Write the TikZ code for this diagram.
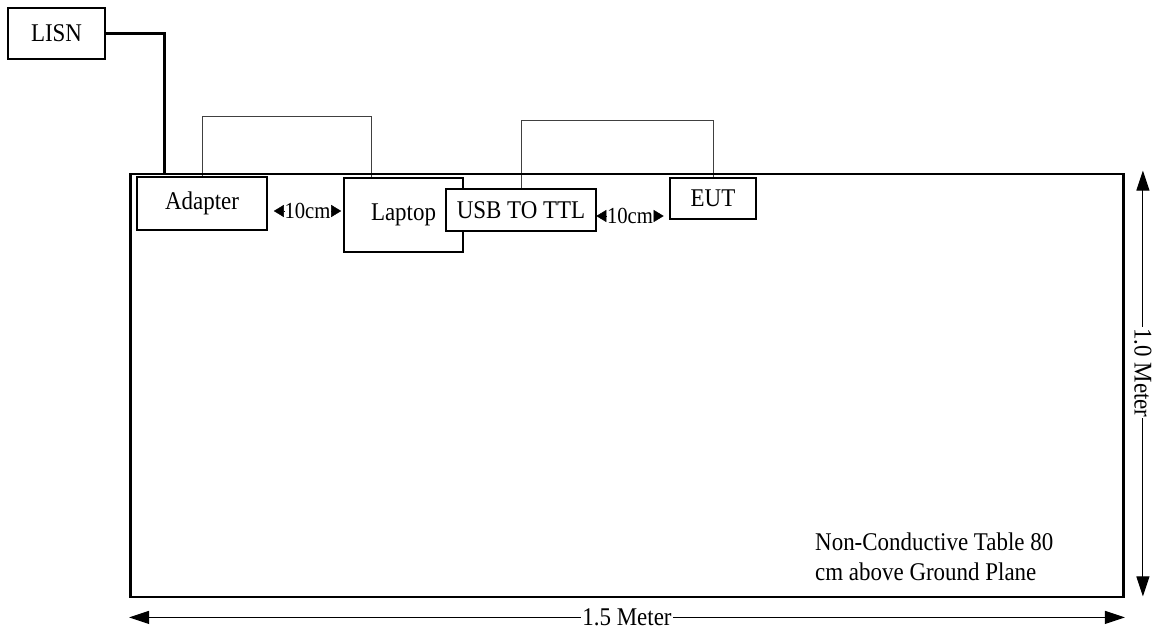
\documentclass[tikz,border=0pt]{standalone}
\usepackage{fontspec}
\setmainfont{Liberation Serif}[FakeStretch=0.9]
\usetikzlibrary{arrows.meta,backgrounds}
\begin{document}
\begin{tikzpicture}[x=1pt,y=-1pt,
  box/.style={draw, line width=1.2pt, fill=white, inner sep=0pt, font=\fontsize{25.5}{30}\selectfont},
  tablebox/.style={draw, line width=2.8pt, inner sep=0pt},
  thickline/.style={line width=3pt},
  cable/.style={draw=black!75, line width=1pt},
  dimarrow/.style={line width=1pt, {Triangle[length=20pt,width=13pt]}-{Triangle[length=20pt,width=13pt]}},
  dimlabel/.style={fill=white, inner sep=1pt, font=\fontsize{25.5}{30}\selectfont},
  gaplabel/.style={inner sep=0.5pt, font=\fontsize{23}{25}\selectfont},
  gaptip/.style={-{Triangle[length=10pt,width=12pt]}},
  notetext/.style={anchor=north west, inner sep=0pt, align=left, font=\fontsize{25.5}{30}\selectfont}
]
\useasboundingbox (0,0) rectangle (1154,629);
\node[tablebox, minimum width=993pt, minimum height=423pt] (table) at (627,385.5) {};

\node[box, minimum width=97pt, minimum height=51pt] (lisn) at (56.5,33.5) {LISN};
\node[box, minimum width=130pt, minimum height=53pt] (adapter) at (202,203.5) {Adapter};
\node[box, minimum width=119pt, minimum height=74pt] (laptop) at (403.5,215) {Laptop};
\node[box, minimum width=150pt, minimum height=42pt] (usb) at (521,210) {USB TO TTL};
\node[box, minimum width=86pt, minimum height=41pt] (eut) at (713,198.5) {EUT};

\begin{scope}[on background layer]
  \draw[cable] (adapter.north) -- ++(0,-60) -| ([xshift=28pt]laptop.north west);
  \draw[cable] (usb.north) -- ++(0,-68) -| (eut.north);
\end{scope}
\draw[thickline] (lisn.east) -| ([xshift=35.5pt]table.north west);

\node[gaplabel] (g1) at (307.5,211) {10cm};
\draw[gaptip] (g1.west) -- ++(-10,0);
\draw[gaptip] (g1.east) -- ++(10,0);
\node[gaplabel] (g2) at (630,216) {10cm};
\draw[gaptip] (g2.west) -- ++(-10,0);
\draw[gaptip] (g2.east) -- ++(10,0);

\draw[dimarrow] ([xshift=18pt,yshift=2pt]table.north east) -- ([xshift=18pt,yshift=2pt]table.south east)
  node[pos=0.475, dimlabel, rotate=-90] (hlabel) {1.0 Meter};
\draw[dimarrow] ([yshift=-19pt]table.south west) -- ([yshift=-19pt]table.south east)
  node[midway, dimlabel] (wlabel) {1.5 Meter};

\node[notetext] (note) at (815,533) {Non-Conductive Table 80\\cm above Ground Plane};
\end{tikzpicture}
\end{document}
